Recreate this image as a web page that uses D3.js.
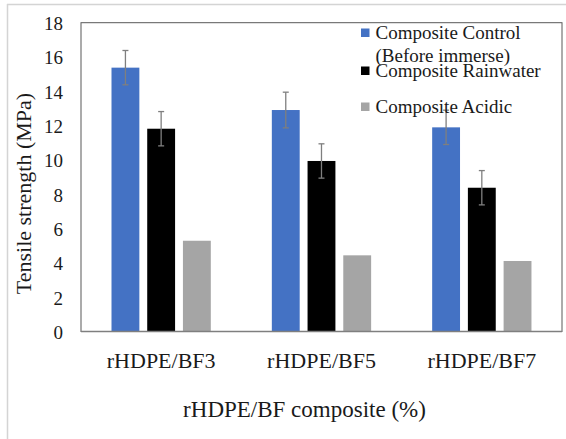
<!DOCTYPE html>
<html>
<head>
<meta charset="utf-8">
<script src="https://cdn.jsdelivr.net/npm/d3@7"></script>
<style>
  html, body { margin: 0; padding: 0; background: #fff; }
  svg text { font-family: "Liberation Serif", "Times New Roman", Times, "DejaVu Serif", serif; fill: #1a1a1a; }
</style>
</head>
<body>
<svg id="chart" width="566" height="439"></svg>
<script>
// Tensile strength of rHDPE/BF composites before and after immersion
const categories = ["rHDPE/BF3", "rHDPE/BF5", "rHDPE/BF7"];
const seriesNames = ["Composite Control", "Composite Rainwater", "Composite Acidic"];
const legendLabels = [["Composite Control", "(Before immerse)"], ["Composite Rainwater"], ["Composite Acidic"]];
const controlValues = [15.38, 12.91, 11.90];
const controlErrors = [1.0, 1.04, 1.0];
const rainwaterValues = [11.82, 9.94, 8.38];
const rainwaterErrors = [1.0, 1.0, 1.0];
const acidicValues = [5.29, 4.44, 4.11];
const yTicks = [0, 2, 4, 6, 8, 10, 12, 14, 16, 18];
const seriesColors = ["#4472C4", "#000000", "#A5A5A5"];

const seriesValues = [controlValues, rainwaterValues, acidicValues];
const seriesErrors = [controlErrors, rainwaterErrors, null];

const serif = '"Liberation Serif", "Times New Roman", Times, "DejaVu Serif", serif';
const svg = d3.select("#chart");

// outer frame of the figure
svg.append("line").attr("x1", 7).attr("x2", 566).attr("y1", 4.5).attr("y2", 4.5)
  .attr("stroke", "#d4d4d4").attr("stroke-width", 1.5);
svg.append("line").attr("x1", 7.5).attr("x2", 7.5).attr("y1", 4).attr("y2", 439)
  .attr("stroke", "#d4d4d4").attr("stroke-width", 1.5);

const plot = { left: 81, right: 562, top: 22.7, bottom: 331.5 };

const x0 = d3.scaleBand().domain(categories).range([plot.left, plot.right]).padding(0);
const x1 = d3.scaleBand().domain(seriesNames).range([30.5, 129.8]).paddingInner(0.22);
const y = d3.scaleLinear().domain([0, 18]).range([plot.bottom, plot.top]);

// bars
const rows = [];
seriesNames.forEach((s, si) => {
  categories.forEach((c, ci) => {
    rows.push({ series: s, si, category: c, value: seriesValues[si][ci],
      err: seriesErrors[si] ? seriesErrors[si][ci] : null });
  });
});

svg.append("g").selectAll("rect").data(rows).join("rect")
  .attr("x", d => x0(d.category) + x1(d.series))
  .attr("width", x1.bandwidth())
  .attr("y", d => y(d.value))
  .attr("height", d => y(0) - y(d.value))
  .attr("fill", d => seriesColors[d.si]);

// error bars
const eg = svg.append("g").attr("stroke", "#7f7f7f").attr("stroke-width", 1.3);
rows.filter(d => d.err != null).forEach(d => {
  const cx = x0(d.category) + x1(d.series) + x1.bandwidth() / 2;
  const yt = y(d.value + d.err), yb = y(d.value - d.err);
  eg.append("line").attr("x1", cx).attr("x2", cx).attr("y1", yt).attr("y2", yb);
  eg.append("line").attr("x1", cx - 3).attr("x2", cx + 3).attr("y1", yt).attr("y2", yt);
  eg.append("line").attr("x1", cx - 3).attr("x2", cx + 3).attr("y1", yb).attr("y2", yb);
});

// plot frame
svg.append("rect")
  .attr("x", plot.left).attr("y", plot.top)
  .attr("width", plot.right - plot.left).attr("height", plot.bottom - plot.top)
  .attr("fill", "none").attr("stroke", "#595959").attr("stroke-width", 1);
svg.append("line").attr("x1", plot.left).attr("x2", plot.right)
  .attr("y1", plot.bottom).attr("y2", plot.bottom)
  .attr("stroke", "#7f7f7f").attr("stroke-width", 1.5);

// y axis
const yAxis = svg.append("g").attr("transform", `translate(${plot.left},0)`)
  .call(d3.axisLeft(y).tickValues(yTicks).tickSize(0).tickPadding(18))
  .attr("font-family", serif);
yAxis.select(".domain").remove();
yAxis.selectAll("text").attr("font-size", 19).style("font-family", serif)
  .attr("fill", "#1a1a1a").attr("dy", "0.36em");

// x axis labels
const xAxis = svg.append("g").attr("transform", `translate(0,${plot.bottom})`)
  .call(d3.axisBottom(x0).tickSize(0).tickPadding(21))
  .attr("font-family", serif);
xAxis.select(".domain").remove();
xAxis.selectAll("text").attr("font-size", 22).style("font-family", serif)
  .attr("fill", "#1a1a1a");

// axis titles
svg.append("text").attr("x", 304.5).attr("y", 417).attr("text-anchor", "middle")
  .attr("font-size", 23).style("font-family", serif).text("rHDPE/BF composite (%)");
svg.append("text").attr("transform", "translate(31,193.5) rotate(-90)")
  .attr("text-anchor", "middle").attr("font-size", 22).style("font-family", serif)
  .text("Tensile strength (MPa)");

// legend
const legendBaselines = [[39, 61.5], [77], [113]];
const lg = svg.append("g");
legendLabels.forEach((lines, i) => {
  const b = legendBaselines[i][0];
  lg.append("rect").attr("x", 361).attr("y", b - 10.5).attr("width", 8.5).attr("height", 8.5)
    .attr("fill", seriesColors[i]);
  lines.forEach((t, j) => {
    lg.append("text").attr("x", 375.5).attr("y", legendBaselines[i][j])
      .attr("font-size", 19).style("font-family", serif).text(t);
  });
});
</script>
</body>
</html>
